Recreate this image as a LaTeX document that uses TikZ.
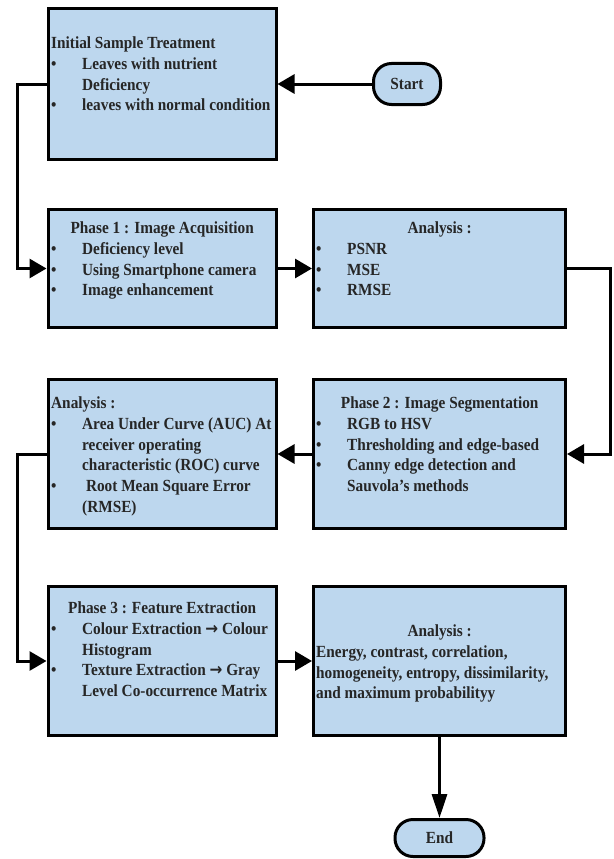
\documentclass[tikz,border=0pt]{standalone}
\usepackage{fontspec}
\setmainfont{Liberation Serif}[FakeStretch=0.9]
\newfontfamily\arrowfont{DejaVu Sans}[FakeStretch=0.9]
\usetikzlibrary{arrows.meta}
\definecolor{boxblue}{RGB}{189,215,238}
\newcommand{\itm}{\makebox[31pt][l]{\textbullet}}
\newcommand{\cnt}{\hspace*{31pt}}
\newcommand{\ctitle}[2]{\makebox[#1]{#2}}
\newcommand{\toarr}{{\arrowfont\bfseries →}}

\begin{document}
\begin{tikzpicture}[x=1pt,y=-1pt,
  box/.style = {draw, line width=3pt, fill=boxblue, minimum width=228pt},
  wbox/.style = {box, minimum width=252pt},
  term/.style = {draw, line width=3pt, fill=boxblue, rounded corners=18pt, text=black!85,
    font=\bfseries\fontsize{17}{18}\selectfont},
  txt/.style = {anchor=north west, align=left, inner sep=0pt, text=black!85,
    font=\bfseries\fontsize{17}{20.8}\selectfont},
  arr/.style = {line width=3pt, -{Triangle[length=17pt,width=19pt]}},
  node distance=277.5pt]
\useasboundingbox (0,0) rectangle (613,859);

% boxes
\node[box, minimum height=151pt] (init) at (162,84) {};
\node[term, minimum width=67pt, minimum height=41pt] (start) at (407,84) {Start};
\node[box, minimum height=118pt] (ph1) at (162,268.5) {};
\node[wbox, minimum height=118pt] (an1) [right of=ph1] {};
\node[box, minimum height=149pt] (an2) at (162,454) {};
\node[wbox, minimum height=149pt] (ph2) [right of=an2] {};
\node[box, minimum height=149pt] (ph3) at (162,661) {};
\node[wbox, minimum height=149pt] (an3) [right of=ph3] {};
\node[term, minimum width=89pt, minimum height=37pt] (end) at (439.5,838) {End};

% texts
\node[txt] (initT) at (51,36.5) {Initial Sample Treatment\\
  \itm Leaves with nutrient\\ \cnt Deficiency\\ \itm leaves with normal condition};
\node[txt] (ph1T) at (51,221.5) {\ctitle{222pt}{Phase 1 : Image Acquisition}\\
  \itm Deficiency level\\ \itm Using Smartphone camera\\ \itm Image enhancement};
\node[txt] (an1T) at (316,221.5) {\ctitle{247pt}{Analysis :}\\
  \itm PSNR\\ \itm MSE\\ \itm RMSE};
\node[txt] (ph2T) at (316,396.5) {\ctitle{247pt}{Phase 2 : Image Segmentation}\\
  \itm RGB to HSV\\ \itm Thresholding and edge-based\\
  \itm Canny edge detection and\\ \cnt Sauvola’s methods};
\node[txt] (an2T) at (51,396.5) {Analysis :\\
  \itm Area Under Curve (AUC) At\\ \cnt receiver operating\\
  \cnt characteristic (ROC) curve\\ \itm\ Root Mean Square Error\\ \cnt (RMSE)};
\node[txt] (ph3T) at (51,601.5) {\ctitle{222pt}{Phase 3 : Feature Extraction}\\
  \itm Colour Extraction \toarr\ Colour\\ \cnt Histogram\\
  \itm Texture Extraction \toarr\ Gray\\ \cnt Level Co-occurrence Matrix};
\node[txt] (an3T) at (316,624.5) {\ctitle{247pt}{Analysis :}\\
  Energy, contrast, correlation,\\ homogeneity, entropy, dissimilarity,\\
  and maximum probabilityy};

% connectors
\draw[arr] (start) -- (init);
\draw[arr] (init.west) -- ++(-29,0) |- (ph1.west);
\draw[arr] (ph1) -- (an1);
\draw[arr] (an1.east) -- ++(43,0) |- (ph2.east);
\draw[arr] (ph2) -- (an2);
\draw[arr] (an2.west) -- ++(-29,0) |- (ph3.west);
\draw[arr] (ph3) -- (an3);
\draw[line width=3pt, -{Triangle[length=24pt,width=15pt]}] (an3) -- (end);
\end{tikzpicture}
\end{document}
